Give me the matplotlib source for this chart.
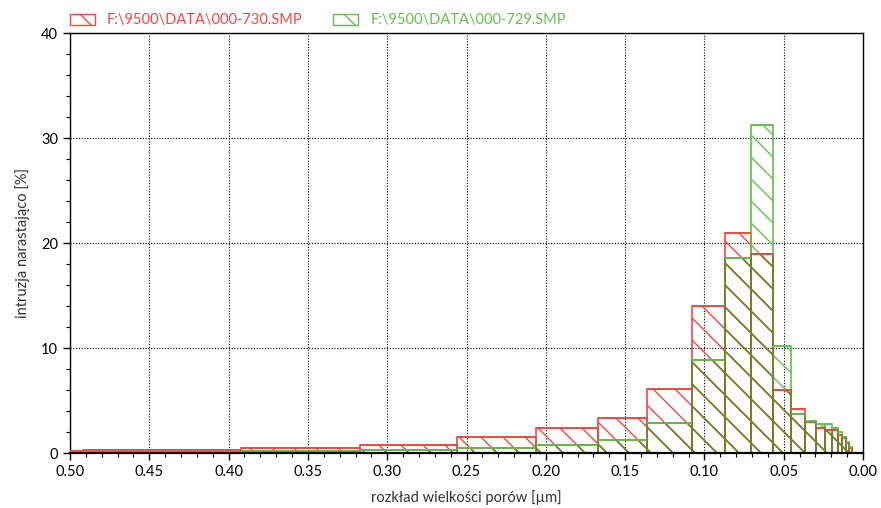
import numpy as np
import matplotlib
matplotlib.use("Agg")
from matplotlib import pyplot as plt
from matplotlib.patches import Patch
from matplotlib.ticker import MultipleLocator, FormatStrFormatter

# render at a lower dpi so the hatch lines get the spacing of the original
DPI = 66
sc = 100 / DPI

plt.rcParams["font.family"] = ["Lato", "DejaVu Sans"]
plt.rcParams["hatch.linewidth"] = 1.0 * sc

# bin edges of pore size [um], largest first
edges = [0.61, 0.491, 0.392, 0.317, 0.256, 0.206, 0.167, 0.136, 0.108, 0.087,
         0.0706, 0.0566, 0.0456, 0.0366, 0.0298, 0.0241, 0.0193, 0.0158,
         0.013, 0.0109, 0.0088, 0.0071]

# intrusion per bin [%]
red_vals = [0.2, 0.3, 0.45, 0.8, 1.55, 2.4, 3.3, 6.15, 14.0, 21.0, 19.0,
            6.0, 4.2, 3.0, 2.4, 2.2, 2.2, 1.7, 1.4, 1.0, 0.5]
green_vals = [0.1, 0.15, 0.2, 0.3, 0.5, 0.8, 1.25, 2.9, 8.9, 18.6, 31.2,
              10.2, 3.7, 3.05, 2.8, 2.75, 2.35, 2.0, 1.55, 1.1, 0.6]

red_label = "F:\\9500\\DATA\\000-730.SMP"
green_label = "F:\\9500\\DATA\\000-729.SMP"

red_c = "#F24444"
green_c = "#66BF4C"
olive_c = "#7A7A2A"

edges = np.array(edges)
left = edges[1:]
width = edges[:-1] - edges[1:]
red_vals = np.array(red_vals)
green_vals = np.array(green_vals)
both = np.minimum(red_vals, green_vals)

fig = plt.figure(figsize=(881 / DPI, 508 / DPI), dpi=DPI)
ax = fig.add_axes([0.0795, 0.108, 0.9001, 0.827])

lw = 1.2 * sc
ax.bar(left, red_vals, width=width, align="edge", facecolor="none",
       edgecolor=red_c, hatch="\\", linewidth=lw, zorder=2)
ax.bar(left, green_vals, width=width, align="edge", facecolor="none",
       edgecolor=green_c, hatch="\\", linewidth=lw, zorder=3)
ax.bar(left, both, width=width, align="edge", facecolor="none",
       edgecolor=olive_c, hatch="\\", linewidth=lw, zorder=4)
# top lines keep the series colour
ax.hlines(red_vals, left, left + width, color=red_c, lw=lw, zorder=5)
ax.hlines(green_vals, left, left + width, color=green_c, lw=lw, zorder=5)

ax.set_xlim(0.5, 0.0)
ax.set_ylim(0, 40)
ax.xaxis.set_major_locator(MultipleLocator(0.05))
ax.xaxis.set_minor_locator(MultipleLocator(0.01))
ax.yaxis.set_major_locator(MultipleLocator(10))
ax.yaxis.set_minor_locator(MultipleLocator(2))
ax.xaxis.set_major_formatter(FormatStrFormatter("%.2f"))
ax.tick_params(which="major", length=5 * sc, width=1 * sc, labelsize=10.5 * sc,
               pad=3.5 * sc, color="black")
ax.tick_params(which="minor", length=3 * sc, width=0.8 * sc)
ax.grid(True, which="major", color="black", linestyle=(0, (1, 1.5)),
        linewidth=0.8 * sc, zorder=1)
ax.set_axisbelow(True)
for s in ax.spines.values():
    s.set_linewidth(1.0 * sc)
ax.spines["bottom"].set_linewidth(1.6 * sc)
ax.spines["bottom"].set_zorder(6)

ax.set_xlabel("rozkład wielkości porów [µm]", fontsize=10.5 * sc, color="#333333",
              labelpad=8 * sc)
ax.set_ylabel("intruzja narastająco [%]", fontsize=10.5 * sc, color="#333333",
              labelpad=8 * sc)

handles = [Patch(facecolor="none", edgecolor=red_c, hatch="\\", linewidth=sc, label=red_label),
           Patch(facecolor="none", edgecolor=green_c, hatch="\\", linewidth=sc, label=green_label)]
leg = ax.legend(handles=handles, loc="lower left", bbox_to_anchor=(-0.008, 1.0),
                ncol=2, frameon=False, fontsize=10.5 * sc, handlelength=1.75,
                handleheight=0.8, handletextpad=0.8, columnspacing=2.1,
                borderaxespad=0.2, borderpad=0.2)
for t, c in zip(leg.get_texts(), [red_c, green_c]):
    t.set_color(c)

fig.savefig("out.png", dpi=DPI)
